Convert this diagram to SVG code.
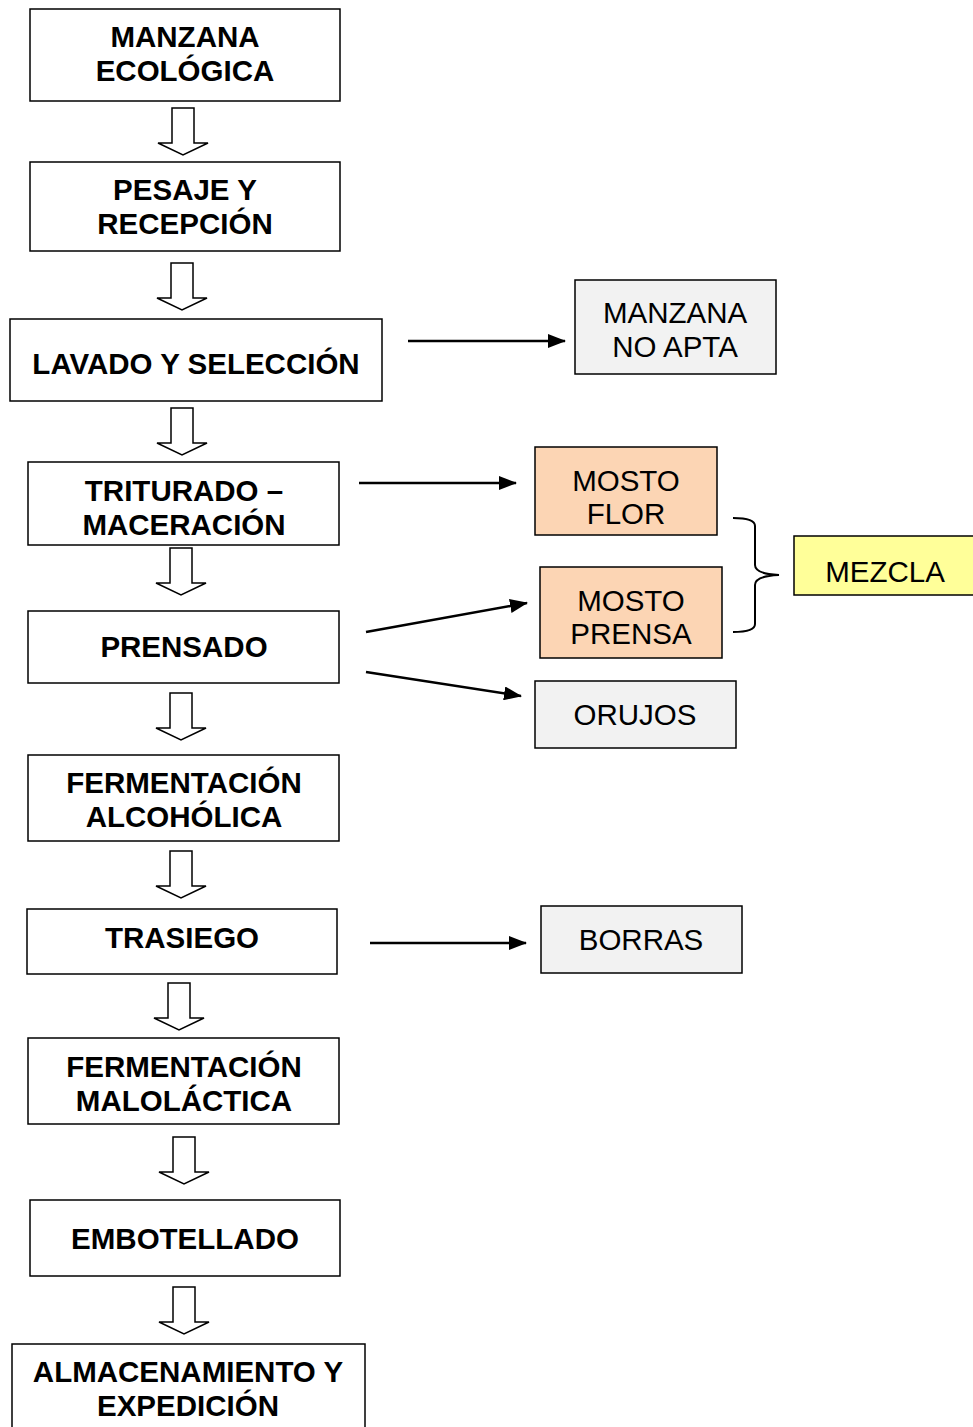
<svg xmlns="http://www.w3.org/2000/svg" width="973" height="1427" viewBox="0 0 973 1427">
<defs>
<style>
.box{fill:#fff;stroke:#000;stroke-width:1.5}
.gray{fill:#f2f2f2;stroke:#000;stroke-width:1.5}
.peach{fill:#fcd5b4;stroke:#000;stroke-width:1.5}
.yel{fill:#ffff99;stroke:#000;stroke-width:1.5}
.b{font-family:"Liberation Sans",Arial,sans-serif;font-weight:bold;font-size:29.5px;text-anchor:middle;fill:#000}
.r{font-family:"Liberation Sans",Arial,sans-serif;font-size:29.5px;text-anchor:middle;fill:#000}
.hollow{fill:#fff;stroke:#000;stroke-width:1.5;stroke-linejoin:miter}
.line{stroke:#000;stroke-width:2.5;fill:none}
</style>
<marker id="ah2" markerWidth="18" markerHeight="14" refX="17" refY="7" orient="auto" markerUnits="userSpaceOnUse" viewBox="0 0 18 14"><path d="M0,0 L18,7 L0,14 Z" fill="#000"/></marker>
<path id="ha" d="M-11,0 H11 V35 H25 L0,47 L-25,35 H-11 Z"/>
</defs>

<g id="n1"><rect class="box" x="30" y="9" width="310" height="92"/><text class="b" x="185" y="47">MANZANA</text><text class="b" x="185" y="81">ECOLÓGICA</text></g>
<g id="n2"><rect class="box" x="30" y="162" width="310" height="89"/><text class="b" x="185" y="200">PESAJE Y</text><text class="b" x="185" y="234">RECEPCIÓN</text></g>
<g id="n3"><rect class="box" x="10" y="319" width="372" height="82"/><text class="b" x="196" y="374">LAVADO Y SELECCIÓN</text></g>
<g id="n4"><rect class="box" x="28" y="462" width="311" height="83"/><text class="b" x="184" y="501">TRITURADO –</text><text class="b" x="184" y="535">MACERACIÓN</text></g>
<g id="n5"><rect class="box" x="28" y="611" width="311" height="72"/><text class="b" x="184" y="657">PRENSADO</text></g>
<g id="n6"><rect class="box" x="28" y="755" width="311" height="86"/><text class="b" x="184" y="793">FERMENTACIÓN</text><text class="b" x="184" y="827">ALCOHÓLICA</text></g>
<g id="n7"><rect class="box" x="27" y="909" width="310" height="65"/><text class="b" x="182" y="948">TRASIEGO</text></g>
<g id="n8"><rect class="box" x="28" y="1038" width="311" height="86"/><text class="b" x="184" y="1077">FERMENTACIÓN</text><text class="b" x="184" y="1111">MALOLÁCTICA</text></g>
<g id="n9"><rect class="box" x="30" y="1200" width="310" height="76"/><text class="b" x="185" y="1249">EMBOTELLADO</text></g>
<g id="n10"><rect class="box" x="12" y="1344" width="353" height="100"/><text class="b" x="188" y="1382">ALMACENAMIENTO Y</text><text class="b" x="188" y="1416">EXPEDICIÓN</text></g>

<g id="s1"><rect class="gray" x="575" y="280" width="201" height="94"/><text class="r" x="675" y="323">MANZANA</text><text class="r" x="675" y="357">NO APTA</text></g>
<g id="s2"><rect class="peach" x="535" y="447" width="182" height="88"/><text class="r" x="626" y="491">MOSTO</text><text class="r" x="626" y="524">FLOR</text></g>
<g id="s3"><rect class="peach" x="540" y="567" width="182" height="91"/><text class="r" x="631" y="611">MOSTO</text><text class="r" x="631" y="644">PRENSA</text></g>
<g id="s4"><rect class="gray" x="535" y="681" width="201" height="67"/><text class="r" x="635" y="725">ORUJOS</text></g>
<g id="s5"><rect class="gray" x="541" y="906" width="201" height="67"/><text class="r" x="641" y="950">BORRAS</text></g>
<g id="s6"><rect class="yel" x="794" y="536" width="200" height="59"/><text class="r" x="885" y="582">MEZCLA</text></g>

<g id="connectors">
<use href="#ha" class="hollow" x="183" y="108"/>
<use href="#ha" class="hollow" x="182" y="263"/>
<use href="#ha" class="hollow" x="182" y="408"/>
<use href="#ha" class="hollow" x="181" y="548"/>
<use href="#ha" class="hollow" x="181" y="693"/>
<use href="#ha" class="hollow" x="181" y="851"/>
<use href="#ha" class="hollow" x="179" y="983"/>
<use href="#ha" class="hollow" x="184" y="1137"/>
<use href="#ha" class="hollow" x="184" y="1287"/>
<line class="line" x1="408" y1="341" x2="565" y2="341" marker-end="url(#ah2)"/>
<line class="line" x1="359" y1="483" x2="516" y2="483" marker-end="url(#ah2)"/>
<line class="line" x1="366" y1="632" x2="527" y2="603" marker-end="url(#ah2)"/>
<line class="line" x1="366" y1="672" x2="521" y2="696" marker-end="url(#ah2)"/>
<line class="line" x1="370" y1="943" x2="526" y2="943" marker-end="url(#ah2)"/>
<path d="M733,518 Q755,518 755,526 V565 Q755,574 779,575 Q755,576 755,585 V624 Q755,632 733,632" fill="none" stroke="#000" stroke-width="2"/>
</g>
</svg>
